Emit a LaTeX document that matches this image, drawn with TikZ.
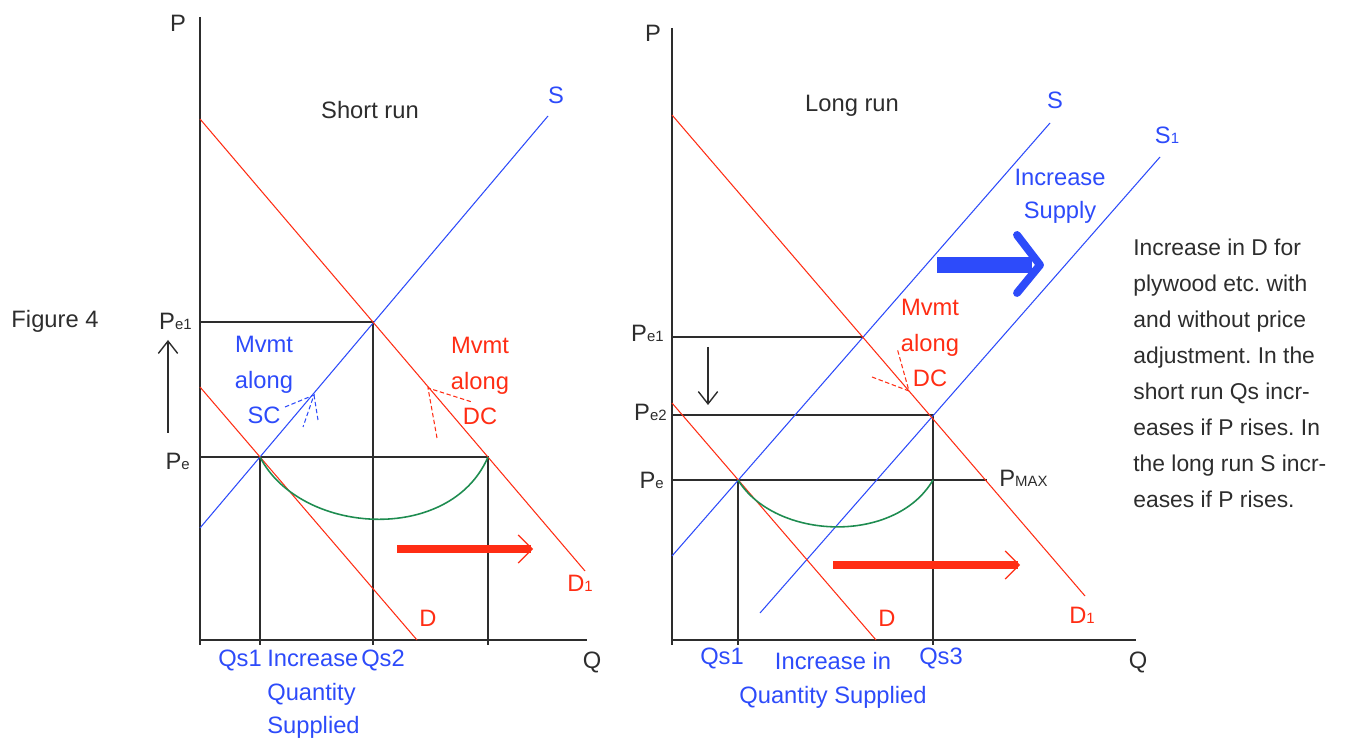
\documentclass[tikz,border=0pt]{standalone}
\usepackage{fontspec}
\setmainfont{Liberation Sans}
\usetikzlibrary{arrows.meta, calc}
\frenchspacing

\definecolor{supblue}{RGB}{45,75,250}
\definecolor{demred}{RGB}{255,45,20}
\definecolor{trailgreen}{RGB}{30,140,80}
\definecolor{inkgray}{RGB}{45,45,45}

\newcommand{\idx}[1]{{\fontsize{8.5}{8.5}\selectfont #1}}

\begin{document}
\begin{tikzpicture}[
  x=0.02cm, y=-0.02cm,
  every node/.style={font=\fontsize{13.5}{20}\selectfont, inner sep=0pt, text=inkgray},
  axis/.style={draw=inkgray, line width=1.1pt},
  level/.style={draw=inkgray, line width=1.1pt},
  supply/.style={draw=supblue, line width=0.6pt},
  demand/.style={draw=demred, line width=0.6pt},
  trail/.style={draw=trailgreen, line width=0.9pt},
  bluetxt/.style={text=supblue, align=center},
  redtxt/.style={text=demred, align=center},
  move/.style={dash pattern=on 2.5pt off 1.5pt, line width=0.6pt},
  pricemove/.style={draw=inkgray, line width=0.8pt, -{Straight Barb[length=7pt,width=11pt]}}
]
  \useasboundingbox (0,0) rectangle (1348,742);

  % Short run
  \coordinate (o1) at (200,645);
  \coordinate (e0) at (260,457);
  \coordinate (e1) at (373,322);
  \coordinate (e2) at (488,457);

  \draw[axis] (200,17) -- (o1) (200,640) -- (587,640);
  \draw[level] (200,322) -- (e1) -- (373,645);
  \draw[level] (200,457) -- (e2) -- (488,645);
  \draw[level] (e0) -- (260,645);

  \draw[supply] (200,528) -- (548,116);
  \draw[demand] (200,119) -- (585,571);
  \draw[demand] (200,387) -- (417,640);
  \draw[trail] (e0) .. controls (300,535) and (450,545) .. (e2);

  \coordinate (ra0) at (397,549);
  \coordinate (ra1) at (533,549);
  \draw[demred, line width=4pt] (ra0) -- ($(ra1)+(-2,0)$);
  \draw[demred, line width=0.7pt, -{Straight Barb[length=8pt,width=16pt]}] (ra0) -- (ra1);

  \coordinate (up0) at (168,433);
  \coordinate (up1) at (168,340);
  \draw[pricemove] (up0) -- (up1);

  \coordinate (sct) at (314,395);
  \draw[move, supblue] (285,407) -- (sct) -- (303,427);
  \draw[move, supblue] (sct) -- (318,420);
  \coordinate (dct) at (428,388);
  \draw[move, demred] (437,438) -- (dct) -- (472,402);

  \node (fig) at (55,321) {Figure 4};
  \node (p1) at (178,23) {P};
  \node[anchor=east] (pe1) at (192,321) {P\idx{e1}};
  \node[anchor=east] (pe) at (190,461) {P\idx{e}};
  \node (sr) at (370,110) {Short run};
  \node[text=supblue] (s) at (556,95) {S};
  \node[text=demred] (d1) at (580,583) {D\idx{1}};
  \node[text=demred] (d) at (428,618) {D};
  \node[bluetxt] (msc) at (264,380) {Mvmt\\along\\SC};
  \node[redtxt] (mdc) at (480,381) {Mvmt\\along\\DC};
  \node[text=supblue] (qs1) at (240,660) {Qs1};
  \node[text=supblue] (qs2) at (383,660) {Qs2};
  \node[text=supblue, align=left, anchor=north west,
        font=\fontsize{13.5}{19}\selectfont] (iqs) at (267,650) {Increase\\Quantity\\Supplied};
  \node (q1) at (592,662) {Q};

  % Long run
  \coordinate (o2) at (672,645);
  \coordinate (f0) at (738,480);
  \coordinate (f1) at (863,337);
  \coordinate (f2) at (933,415);

  \draw[axis] (672,28) -- (o2) (672,640) -- (1136,640);
  \draw[level] (672,337) -- (f1);
  \draw[level] (672,415) -- (f2) -- (933,645);
  \draw[level] (672,480) -- (987,480);
  \draw[level] (f0) -- (738,645);

  \draw[supply] (672,556) -- (1050,123);
  \draw[supply] (760,613) -- (1160,157);
  \draw[demand] (672,115) -- (1085,596);
  \draw[demand] (672,403) -- (876,640);
  \draw[trail] (f0) .. controls (775,540) and (895,545) .. (933,480);

  \coordinate (rb0) at (833,565);
  \coordinate (rb1) at (1020,565);
  \draw[demred, line width=4pt] (rb0) -- ($(rb1)+(-2,0)$);
  \draw[demred, line width=0.7pt, -{Straight Barb[length=8pt,width=16pt]}] (rb0) -- (rb1);

  \coordinate (ba0) at (937,265);
  \coordinate (ba1) at (1040,265);
  \draw[supblue, line width=9pt] (ba0) -- (1032,265);
  \draw[supblue, line width=4.5pt, line cap=round, line join=round]
    (ba1) ++(-23,-30) -- (ba1) -- ++(-23,28);

  \coordinate (dn0) at (708,347);
  \coordinate (dn1) at (708,405);
  \draw[pricemove] (dn0) -- (dn1);

  \coordinate (dct2) at (909,391);
  \draw[move, demred] (872,377) -- (dct2) -- (897,348);

  \node (p2) at (653,33) {P};
  \node[anchor=east] (pf1) at (664,333) {P\idx{e1}};
  \node[anchor=east] (pf2) at (667,412) {P\idx{e2}};
  \node[anchor=east] (pf) at (664,480) {P\idx{e}};
  \node[anchor=west] (pmax) at (999,478) {P\idx{MAX}};
  \node (lr) at (852,106) {Long run};
  \node[text=supblue] (s2) at (1055,100) {S};
  \node[text=supblue] (s21) at (1167,135) {S\idx{1}};
  \node[bluetxt, font=\fontsize{13.5}{19}\selectfont] (isup) at (1060,196) {Increase\\Supply};
  \node[redtxt] (mdc2) at (930,343) {Mvmt\\along\\DC};
  \node[text=demred] (d2) at (887,618) {D};
  \node[text=demred] (d21) at (1082,615) {D\idx{1}};
  \node[text=supblue] (qf1) at (722,658) {Qs1};
  \node[text=supblue] (qf3) at (941,658) {Qs3};
  \node[bluetxt, font=\fontsize{13.5}{19.5}\selectfont] (iqf) at (833,680) {Increase in\\Quantity Supplied};
  \node (q2) at (1138,662) {Q};

  \node[align=left, anchor=west, font=\fontsize{13}{20.5}\selectfont] (note) at (1133,373)
    {Increase in D for\\plywood etc. with\\and without price\\adjustment. In the\\short run Qs incr-\\eases if P rises. In\\the long run S incr-\\eases if P rises.};
\end{tikzpicture}
\end{document}
